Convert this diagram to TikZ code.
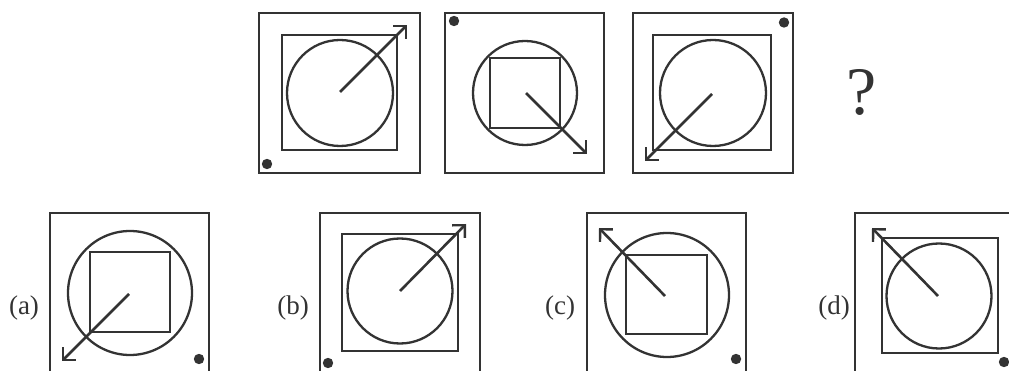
\documentclass[tikz,border=0pt]{standalone}
\usepackage{fontspec}
\setmainfont{Liberation Serif}
\usetikzlibrary{arrows.meta}
\definecolor{ink}{HTML}{333333}
\tikzset{
  frame/.style={draw=ink, line width=2.8pt},
  sqbox/.style={draw=ink, line width=2.7pt},
  circ/.style={draw=ink, line width=2.3pt},
  arr/.style={draw=ink, line width=2.6pt, -{Straight Barb[length=9pt,width=18pt,line width=2.4pt]}},
  dotmark/.style={fill=ink, draw=none},
  lbl/.style={text=ink, font=\fontsize{27}{30}\selectfont, inner sep=0pt}
}
\begin{document}
\begin{tikzpicture}[x=1pt,y=-1pt]
\useasboundingbox (0,0) rectangle (1009,371);
\clip (0,0) rectangle (1009,371);
% ---------- top row ----------
% figure 1
\draw[frame] (259,13) rectangle (420,173);
\draw[sqbox] (282,35) rectangle (397,150);
\draw[circ] (340,93) circle[radius=53];
\coordinate (s1) at (340,92);
\coordinate (e1) at (407,25);
\draw[arr] (s1) -- (e1);
\fill[dotmark] (267,164) circle[radius=5.2];
% figure 2
\draw[frame] (445,13) rectangle (604,173);
\draw[circ] (525,93) circle[radius=52];
\draw[sqbox] (490,58) rectangle (560,128);
\coordinate (s2) at (526,93);
\coordinate (e2) at (587,154);
\draw[arr] (s2) -- (e2);
\fill[dotmark] (454,21) circle[radius=5.2];
% figure 3
\draw[frame] (633,13) rectangle (793,173);
\draw[sqbox] (653,35) rectangle (771,150);
\draw[circ] (713,93) circle[radius=53];
\coordinate (s3) at (712,94);
\coordinate (e3) at (645,161);
\draw[arr] (s3) -- (e3);
\fill[dotmark] (784,22.5) circle[radius=5.2];
% question mark
\node[lbl, font=\fontsize{68}{72}\selectfont] (q) at (862,92) {?};
% ---------- answer row ----------
% (a)
\node[lbl] (la) at (24,308) {(a)};
\draw[frame] (50,213) rectangle (209,380);
\draw[circ] (130,293) circle[radius=62];
\draw[sqbox] (90,252) rectangle (170,332);
\coordinate (sa) at (129,294);
\coordinate (ea) at (62,361);
\draw[arr] (sa) -- (ea);
\fill[dotmark] (199,359) circle[radius=5.2];
% (b)
\node[lbl] (lb) at (293,308) {(b)};
\draw[frame] (320,213) rectangle (480,380);
\draw[sqbox] (342,234) rectangle (458,351);
\draw[circ] (400,291) circle[radius=52.5];
\coordinate (sb) at (400,291);
\coordinate (eb) at (466,224);
\draw[arr] (sb) -- (eb);
\fill[dotmark] (328,363) circle[radius=5.2];
% (c)
\node[lbl] (lc) at (560,308) {(c)};
\draw[frame] (587,213) rectangle (746,380);
\draw[circ] (667,295) circle[radius=62];
\draw[sqbox] (626,255) rectangle (707,334);
\coordinate (sc) at (665,296);
\coordinate (ec) at (599,228);
\draw[arr] (sc) -- (ec);
\fill[dotmark] (736,359) circle[radius=5.2];
% (d)
\node[lbl] (ld) at (834,308) {(d)};
\draw[frame] (855,213) rectangle (1020,380);
\draw[sqbox] (882,238) rectangle (998,353);
\draw[circ] (939,296) circle[radius=52.5];
\coordinate (sd) at (938,296);
\coordinate (ed) at (872,228);
\draw[arr] (sd) -- (ed);
\fill[dotmark] (1004,362) circle[radius=5.2];
\end{tikzpicture}
\end{document}
